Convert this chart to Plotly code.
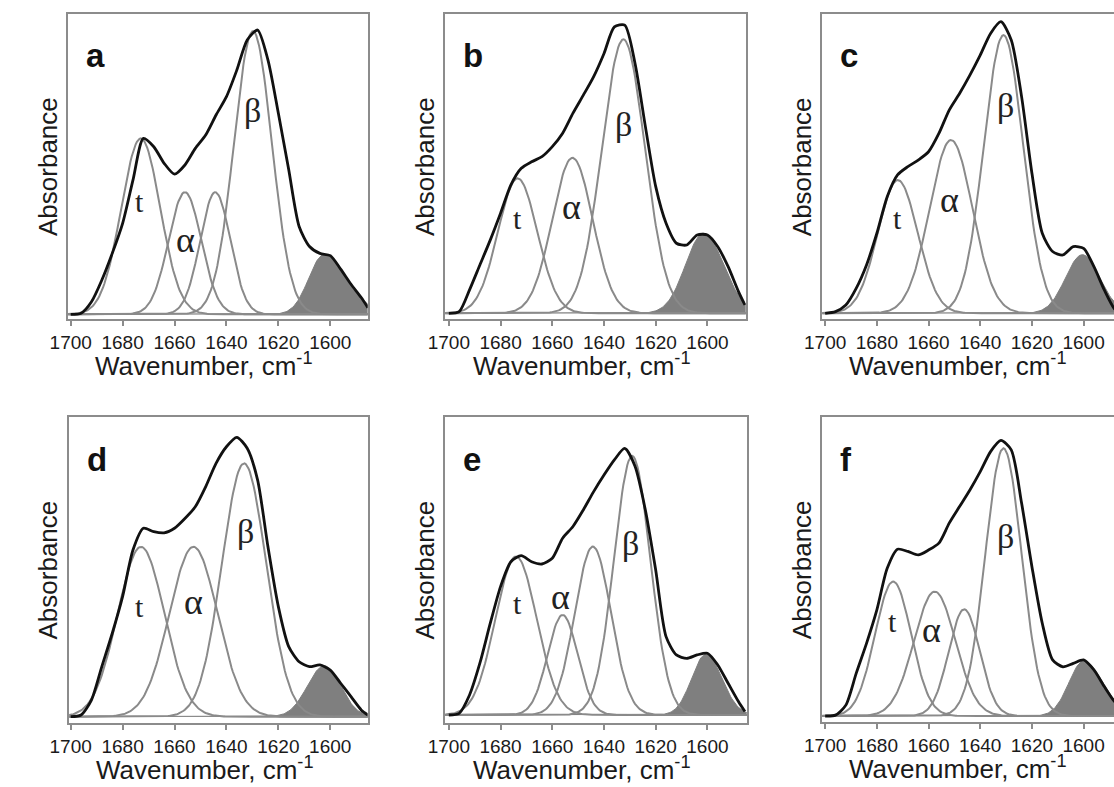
import numpy as np
import plotly.graph_objects as go

# ---------------- data ----------------
WAVENUMBER = [1700, 1696, 1692, 1688, 1684, 1680, 1676, 1672, 1668, 1664, 1660,
              1656, 1652, 1648, 1644, 1640, 1636, 1632, 1628, 1624, 1620, 1616,
              1612, 1608, 1604, 1600, 1596, 1592, 1588, 1585.5]
TICK_VALUES = [1700, 1680, 1660, 1640, 1620, 1600]
PANEL_LETTERS = ["a", "b", "c", "d", "e", "f"]
BAND_NAMES = ["t", "α", "β"]

# measured spectra (normalised absorbance)
A_SPECTRUM = [0.0, 0.004, 0.044, 0.12, 0.213, 0.318, 0.47, 0.615, 0.586, 0.528, 0.49,
              0.522, 0.58, 0.627, 0.697, 0.761, 0.854, 0.959, 0.994, 0.889, 0.703, 0.505,
              0.307, 0.237, 0.213, 0.205, 0.158, 0.105, 0.058, 0.023]
B_SPECTRUM = [0.0, 0.006, 0.082, 0.169, 0.256, 0.35, 0.449, 0.507, 0.53, 0.548, 0.583,
              0.63, 0.70, 0.763, 0.828, 0.909, 1.002, 1.008, 0.874, 0.653, 0.443, 0.315,
              0.245, 0.239, 0.274, 0.274, 0.233, 0.163, 0.076, 0.029]
C_SPECTRUM = [0.0, 0.006, 0.029, 0.087, 0.169, 0.28, 0.408, 0.484, 0.513, 0.536, 0.565,
              0.629, 0.711, 0.769, 0.833, 0.903, 0.979, 1.02, 0.956, 0.758, 0.49, 0.28,
              0.216, 0.204, 0.233, 0.227, 0.163, 0.082, 0.015, 0.0]
D_SPECTRUM = [0.0, 0.006, 0.058, 0.175, 0.291, 0.42, 0.583, 0.659, 0.647, 0.643, 0.659,
              0.693, 0.734, 0.804, 0.886, 0.944, 0.977, 0.939, 0.828, 0.594, 0.385, 0.245,
              0.192, 0.175, 0.181, 0.163, 0.117, 0.07, 0.023, 0.006]
E_SPECTRUM = [0.0, 0.006, 0.07, 0.181, 0.32, 0.449, 0.536, 0.557, 0.536, 0.528, 0.548,
              0.618, 0.659, 0.717, 0.781, 0.839, 0.892, 0.932, 0.87, 0.717, 0.507, 0.274,
              0.21, 0.198, 0.21, 0.216, 0.175, 0.111, 0.047, 0.012]
F_SPECTRUM = [0.0, 0.003, 0.038, 0.149, 0.254, 0.371, 0.516, 0.583, 0.575, 0.563, 0.58,
              0.604, 0.674, 0.732, 0.79, 0.854, 0.924, 0.963, 0.93, 0.744, 0.522, 0.324,
              0.196, 0.172, 0.184, 0.196, 0.161, 0.103, 0.05, 0.03]

# fitted Gaussian bands: centre (cm-1), height, sigma (cm-1)
A_CENTERS = [1673.0, 1656.0, 1644.3, 1629.8]
A_HEIGHTS = [0.615, 0.427, 0.427, 0.99]
A_SIGMAS = [7.5, 6.3, 5.8, 7.3]
B_CENTERS = [1673.4, 1652.2, 1632.5]
B_HEIGHTS = [0.472, 0.544, 0.958]
B_SIGMAS = [7.6, 7.8, 8.3]
C_CENTERS = [1671.9, 1651.3, 1631.0]
C_HEIGHTS = [0.466, 0.606, 0.973]
C_SIGMAS = [7.7, 8.3, 7.6]
D_CENTERS = [1672.9, 1652.7, 1633.2]
D_HEIGHTS = [0.594, 0.594, 0.886]
D_SIGMAS = [9.0, 9.3, 8.5]
E_CENTERS = [1674.0, 1656.0, 1644.3, 1629.1]
E_HEIGHTS = [0.554, 0.35, 0.589, 0.906]
E_SIGMAS = [8.0, 5.8, 7.0, 7.0]
F_CENTERS = [1673.7, 1657.6, 1646.2, 1631.0]
F_HEIGHTS = [0.47, 0.435, 0.373, 0.936]
F_SIGMAS = [7.0, 8.0, 6.0, 7.0]

# side-chain band (filled): centre, height, sigma high-wn side, sigma low-wn side
A_SIDE_BAND = [1602.5, 0.208, 5.8, 9.0]
B_SIDE_BAND = [1601.5, 0.28, 7.0, 7.8]
C_SIDE_BAND = [1600.5, 0.205, 6.5, 6.8]
D_SIDE_BAND = [1602.3, 0.178, 6.5, 6.3]
E_SIDE_BAND = [1600.6, 0.212, 5.5, 6.2]
F_SIDE_BAND = [1600.0, 0.192, 5.7, 7.4]

PANELS = [
    (A_SPECTRUM, A_CENTERS, A_HEIGHTS, A_SIGMAS, A_SIDE_BAND),
    (B_SPECTRUM, B_CENTERS, B_HEIGHTS, B_SIGMAS, B_SIDE_BAND),
    (C_SPECTRUM, C_CENTERS, C_HEIGHTS, C_SIGMAS, C_SIDE_BAND),
    (D_SPECTRUM, D_CENTERS, D_HEIGHTS, D_SIGMAS, D_SIDE_BAND),
    (E_SPECTRUM, E_CENTERS, E_HEIGHTS, E_SIGMAS, E_SIDE_BAND),
    (F_SPECTRUM, F_CENTERS, F_HEIGHTS, F_SIGMAS, F_SIDE_BAND),
]

# ---------------- layout constants ----------------
W, H = 1114, 787
BOX = [(49, 354, 14, 319), (433, 739, 14, 319), (817, 1122, 14, 319),
       (50, 354, 417, 723), (433, 740, 417, 723), (817, 1122, 417, 722)]
XRANGE = [(1701.0, 1585.6), (1701.4, 1585.2), (1701.1, 1585.2),
          (1700.6, 1585.6), (1701.4, 1584.8), (1701.1, 1585.2)]
YRANGE = [(-0.0164, 1.05), (-0.02, 1.047), (-0.02, 1.047),
          (-0.022, 1.048), (-0.028, 1.042), (-0.021, 1.045)]
LABEL_POS = [
    [(1673.5, 0.394), (1655.9, 0.26), (1629.8, 0.714)],
    [(1673.4, 0.332), (1652.5, 0.373), (1632.3, 0.659)],
    [(1672.2, 0.332), (1651.9, 0.396), (1630.4, 0.728)],
    [(1673.5, 0.385), (1652.7, 0.40), (1632.5, 0.647)],
    [(1673.4, 0.39), (1657.0, 0.414), (1629.7, 0.60)],
    [(1674.0, 0.33), (1658.9, 0.30), (1630.4, 0.627)],
]
LABEL_SIZE = [30, 36, 34]
GRAY = "#8a8a8a"
FILL = "#7f7f7f"
FRAME = "#8c8c8c"
SANS = "Liberation Sans, Arial, sans-serif"
SERIF = "Liberation Serif, Times New Roman, serif"

xgrid = np.arange(1702.0, 1584.0, -0.5)

fig = go.Figure()
annotations = []
layout_axes = {}

for i, (spec, cen, hei, sig, side) in enumerate(PANELS):
    n = i + 1
    xa = "x" if n == 1 else f"x{n}"
    ya = "y" if n == 1 else f"y{n}"
    l, r, t, b = BOX[i]
    hi, lo = XRANGE[i]
    r_vis = min(r, W)
    lo_vis = hi - (r_vis - l) / (r - l) * (hi - lo)

    # filled side-chain band
    c0, h0, s_hi, s_lo = side
    s = np.where(xgrid >= c0, s_hi, s_lo)
    yfill = h0 * np.exp(-0.5 * ((xgrid - c0) / s) ** 2)
    fig.add_trace(go.Scatter(x=xgrid, y=yfill, mode="lines", fill="tozeroy",
                             fillcolor=FILL, line=dict(color=FILL, width=1),
                             xaxis=xa, yaxis=ya, showlegend=False, hoverinfo="skip"))
    # amide I component bands
    for c, h, sg in zip(cen, hei, sig):
        yb = h * np.exp(-0.5 * ((xgrid - c) / sg) ** 2)
        fig.add_trace(go.Scatter(x=xgrid, y=yb, mode="lines",
                                 line=dict(color=GRAY, width=2),
                                 xaxis=xa, yaxis=ya, showlegend=False, hoverinfo="skip"))
    # measured spectrum
    fig.add_trace(go.Scatter(x=WAVENUMBER, y=spec, mode="lines",
                             line=dict(color="#111111", width=2.8, shape="spline", smoothing=0.7),
                             xaxis=xa, yaxis=ya, showlegend=False))

    mirror_y = r <= W
    layout_axes[("xaxis" if n == 1 else f"xaxis{n}")] = dict(
        domain=[l / W, r_vis / W], anchor=ya, range=[hi, lo_vis],
        tickvals=TICK_VALUES, ticktext=[str(v) for v in TICK_VALUES],
        ticks="outside", ticklen=5, tickwidth=1.5, tickcolor=FRAME,
        showline=True, linecolor=FRAME, linewidth=2, mirror=True,
        showgrid=False, zeroline=False,
        tickfont=dict(family=SANS, size=19, color="#1a1a1a"))
    layout_axes[("yaxis" if n == 1 else f"yaxis{n}")] = dict(
        domain=[1 - b / H, 1 - t / H], anchor=xa, range=list(YRANGE[i]),
        showticklabels=False, ticks="", showline=True, linecolor=FRAME,
        linewidth=2, mirror=mirror_y, showgrid=False, zeroline=False)

    # panel letter
    annotations.append(dict(xref="paper", yref="paper", x=(l + 16) / W, y=1 - (t + 42) / H,
                            xanchor="left", yanchor="middle", showarrow=False,
                            text=f"<b>{PANEL_LETTERS[i]}</b>",
                            font=dict(family=SANS, size=33, color="#111111")))
    # y title
    annotations.append(dict(xref="paper", yref="paper", x=(l - 21) / W, y=1 - ((t + b) / 2) / H,
                            xanchor="center", yanchor="middle", showarrow=False, textangle=-90,
                            text="Absorbance", font=dict(family=SANS, size=26, color="#1a1a1a")))
    # x title
    annotations.append(dict(xref="paper", yref="paper", x=((l + r) / 2 - 14) / W,
                            y=1 - (b + 45) / H, xanchor="center", yanchor="middle",
                            showarrow=False, text="Wavenumber, cm<sup>-1</sup>",
                            font=dict(family=SANS, size=26, color="#1a1a1a")))
    # band labels
    for name, (lx, ly), fs in zip(BAND_NAMES, LABEL_POS[i], LABEL_SIZE):
        annotations.append(dict(xref=xa, yref=ya, x=lx, y=ly, xanchor="center",
                                yanchor="middle", showarrow=False, text=name,
                                font=dict(family=SERIF, size=fs, color="#222222")))

fig.update_layout(width=W, height=H, margin=dict(l=0, r=0, t=0, b=0),
                  paper_bgcolor="white", plot_bgcolor="white",
                  annotations=annotations, **layout_axes)

fig.write_html("out.html")
